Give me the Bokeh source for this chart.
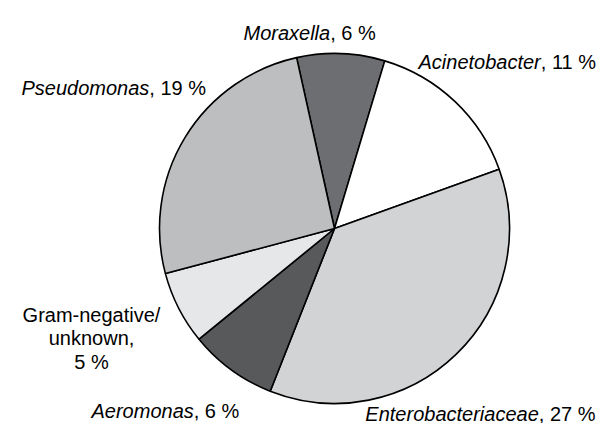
import numpy as np
from bokeh.plotting import figure
from bokeh.models import ColumnDataSource, Range1d
from bokeh.core.properties import value
from bokeh.embed import file_html
from bokeh.resources import INLINE

# ---- data ----
names = ["Moraxella", "Acinetobacter", "Enterobacteriaceae", "Aeromonas",
         "Gram-negative/unknown", "Pseudomonas"]
percents = [6, 11, 27, 6, 5, 19]
colors = ["#6d6e71", "#ffffff", "#d1d3d4", "#58595b", "#e6e7e8", "#bcbec0"]
italic_names = ["Moraxella", "Acinetobacter", "Enterobacteriaceae", "Aeromonas", "Pseudomonas"]
gram_lines = ["Gram-negative/", "unknown,", "5 %"]

W, H = 601, 423
FS = 20  # px

# Arial / Liberation Sans advance widths (per 1000 em)
AW = {'A': 667, 'E': 667, 'M': 833, 'P': 667, 'G': 778, 'a': 556, 'b': 556, 'c': 500,
      'd': 556, 'e': 556, 'i': 222, 'l': 222, 'm': 833, 'n': 556, 'o': 556, 'r': 333,
      's': 500, 't': 278, 'u': 556, 'x': 500, 'k': 500, 'w': 722, 'v': 500, 'g': 556,
      ',': 278, ' ': 278, '%': 889, '/': 278, '-': 333,
      '0': 556, '1': 556, '2': 556, '5': 556, '6': 556, '7': 556, '9': 556}


def tw(s):
    return sum(AW.get(ch, 556) for ch in s) * FS / 1000.0


def to_data(ix, iy):
    # image pixel -> data coordinate (y up)
    return ix, H - iy


p = figure(width=W, height=H, output_backend="svg", toolbar_location=None,
           x_range=Range1d(0, W), y_range=Range1d(0, H), min_border=0)
p.axis.visible = False
p.grid.visible = False
p.outline_line_color = None
p.background_fill_color = "white"
p.border_fill_color = "white"

# ---- pie ----
vals = np.array(percents, dtype=float)
frac = vals / vals.sum()
start_cw = np.deg2rad(-12.5)  # clockwise from 12 o'clock
cum = np.concatenate([[0.0], np.cumsum(frac)]) * 2 * np.pi + start_cw
starts = np.pi / 2 - cum[1:]
ends = np.pi / 2 - cum[:-1]
cx, cy = to_data(334, 228)
src = ColumnDataSource(dict(x=[cx] * len(vals), y=[cy] * len(vals), start=starts,
                            end=ends, color=colors))
p.wedge(x="x", y="y", radius=175, start_angle="start", end_angle="end",
        fill_color="color", line_color="black", line_width=1.6, source=src)

# ---- labels ----
label_pos = {  # image coords: left x, baseline y
    "Moraxella": (243, 32),
    "Acinetobacter": (418, 61),
    "Pseudomonas": (21, 87),
    "Aeromonas": (91, 410),
    "Enterobacteriaceae": (None, 413),
}
ent_right = 595

nx, ny, ntext, sx, sy, stext = [], [], [], [], [], []
for nm, pc in zip(names, percents):
    if nm not in italic_names:
        continue
    suffix = f", {pc} %"
    lx, by = label_pos[nm]
    if lx is None:
        lx = ent_right - tw(nm) - tw(suffix)
    ax, ay = to_data(lx + tw(nm), by)
    nx.append(ax); ny.append(ay); ntext.append(nm)
    sx.append(ax); sy.append(ay); stext.append(suffix)

p.text(x=nx, y=ny, text=ntext, text_align="right", text_baseline="alphabetic",
       text_font=value("Liberation Sans"), text_font_style="italic",
       text_font_size=f"{FS}px", text_color="black")
p.text(x=sx, y=sy, text=stext, text_align="left", text_baseline="alphabetic",
       text_font=value("Liberation Sans"), text_font_size=f"{FS}px", text_color="black")

gx, gy = [], []
for i, ln in enumerate(gram_lines):
    x_, y_ = to_data(91, 314 + i * 23.5)
    gx.append(x_); gy.append(y_)
p.text(x=gx, y=gy, text=gram_lines, text_align="center", text_baseline="alphabetic",
       text_font=value("Liberation Sans"), text_font_size=f"{FS}px", text_color="black")

open("out.html", "w").write(file_html(p, INLINE))
